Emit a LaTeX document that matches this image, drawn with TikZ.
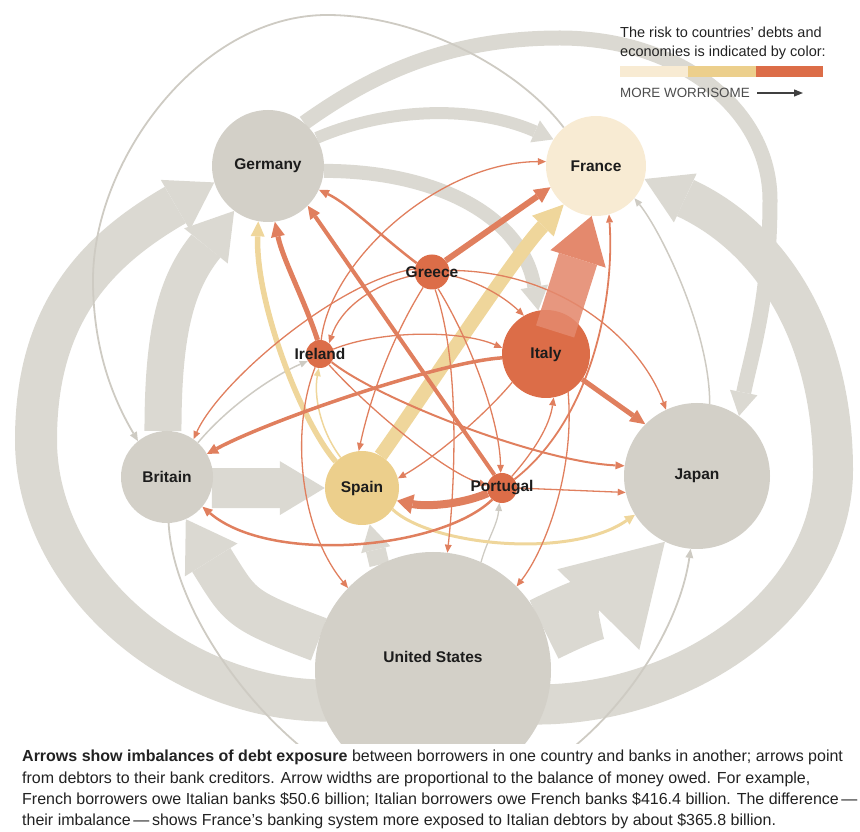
\documentclass[tikz,border=0pt]{standalone}
\usepackage{fontspec}
\setmainfont{Liberation Sans}
\usetikzlibrary{arrows.meta}
\definecolor{nodegray}{HTML}{D3D0C8}
\definecolor{bandgray}{HTML}{DBD9D2}
\definecolor{thingray}{HTML}{CECBC3}
\definecolor{lowrisk}{HTML}{F8EBD3}
\definecolor{midrisk}{HTML}{ECCF8C}
\definecolor{highrisk}{HTML}{DC6D48}
\definecolor{linkorange}{HTML}{E07F5E}
\definecolor{linkyellow}{HTML}{EFD69B}
\definecolor{bigorange}{HTML}{E4896D}
\definecolor{labeltext}{HTML}{1C1C1C}
\definecolor{captiontext}{HTML}{222222}
\pgfdeclarelayer{links}
\pgfsetlayers{links,main}
\tikzset{
  country/.style={circle, inner sep=0pt, minimum size=#1},
  countryname/.style={font=\fontsize{15.5}{18}\selectfont\bfseries, text=labeltext},
  debthead/.style 2 args={-{Triangle[width=#1,length=#2,line width=0pt]}},
  grayband/.style={draw=bandgray, line width=#1},
  graylink/.style={draw=thingray, line width=#1},
  orangelink/.style={draw=linkorange, line width=#1},
  yellowlink/.style={draw=linkyellow, line width=#1},
  thinorange/.style={orangelink=1.3pt, debthead={7pt}{8pt}},
}
\begin{document}
\begin{tikzpicture}[x=1pt,y=1pt]
            \useasboundingbox (0,0) rectangle (860,831);

            % countries
            \node[country=112pt, fill=nodegray] (germany) at (268,665) {};
            \node[country=100pt, fill=lowrisk] (france) at (596,665) {};
            \node[country=35pt, fill=highrisk] (greece) at (432,559) {};
            \node[country=28pt, fill=highrisk] (ireland) at (320,477) {};
            \node[country=88pt, fill=highrisk] (italy) at (546,477) {};
            \node[country=92pt, fill=nodegray] (britain) at (167,354) {};
            \node[country=74pt, fill=midrisk] (spain) at (362,343) {};
            \node[country=30pt, fill=highrisk] (portugal) at (502,343) {};
            \node[country=146pt, fill=nodegray] (japan) at (697,355) {};
            \node[country=236pt, fill=nodegray] (us) at (433,161) {};

            % the widest debt sits over Italy
            \draw[orangelink=40pt, draw=bigorange, draw opacity=0.88, debthead={58pt}{45pt}] ([shift={(-6pt,-19pt)}]italy.70) -- (france.-95);

            \node[countryname] (germanyname) at (germany) {Germany};
            \node[countryname] (francename) at (france) {France};
            \node[countryname] (greecename) at (greece) {Greece};
            \node[countryname] (irelandname) at (ireland) {Ireland};
            \node[countryname] (italyname) at (italy) {Italy};
            \node[countryname] (britainname) at (britain) {Britain};
            \node[countryname] (spainname) at (spain) {Spain};
            \node[countryname] (portugalname) at (portugal) {Portugal};
            \node[countryname] (japanname) at (japan) {Japan};
            \node[countryname] (usname) at (433,174) {United States};

            \begin{pgfonlayer}{links}
            % gray bands
            \coordinate (ringwest) at (36,391);
            \coordinate (ringeast) at (833,361);
            \coordinate (bandtop) at (560,793);
            \coordinate (bandright) at (770,631);
            \draw[grayband=42pt, debthead={58pt}{45pt}] ([xshift=8pt]us.195) .. controls +(-149,0) and +(0,-140) .. (ringwest) .. controls +(0,130) and +(-114,-66) .. (germany.197);
            \draw[grayband=37pt, debthead={56pt}{45pt}] (britain.95) .. controls +(0,100) and +(-58,-72) .. (germany.233);
            \draw[grayband=45pt, debthead={62pt}{48pt}] (us.165) .. controls +(-80,30) and +(55,-88) .. (britain.-66);
            \draw[grayband=40pt, debthead={54pt}{45pt}] (britain.-14) -- (spain.180);
            \draw[grayband=20pt, debthead={30pt}{26pt}] (us.117) -- (spain.-78);
            \draw[grayband=65pt, debthead={115pt}{95pt}] (us.20) .. controls +(30,15) and +(-59,-60) .. (japan.244);
            \draw[grayband=40pt, debthead={54pt}{45pt}] ([xshift=-10pt]us.-17) .. controls +(154,0) and +(0,-130) .. (ringeast) .. controls +(0,130) and +(131,-61) .. (france.-15);
            \draw[grayband=15pt, debthead={28pt}{24pt}] (germany.50) .. controls +(70,50) and +(-110,0) .. (bandtop) .. controls +(120,0) and +(0,90) .. (bandright) .. controls +(0,-100) and +(12,60) .. (japan.55);
            \draw[grayband=12pt, debthead={24pt}{20pt}] (germany.30) .. controls +(70,30) and +(-80,35) .. (france.148);
            \draw[grayband=14pt, debthead={28pt}{24pt}] (germany.-5) .. controls +(110,0) and +(-16,96) .. (italy.100);

            % thin gray links
            \coordinate (arctop) at (327,816);
            \coordinate (arcwest) at (93,551);
            \coordinate (arcbottom) at (430,26);
            \draw[graylink=1.8pt, debthead={8pt}{9pt}] (france.130) .. controls +(-44,58) and +(93,0) .. (arctop) .. controls +(-127,0) and +(0,120) .. (arcwest) .. controls +(0,-80) and +(-18,31) .. (britain.129);
            \draw[graylink=1.8pt, debthead={8pt}{9pt}] (britain.-88) .. controls +(6,-117) and +(-110,0) .. (arcbottom) .. controls +(130,0) and +(-16,-111) .. (japan.-95);
            \draw[graylink=1.5pt, debthead={7pt}{8pt}] (japan.80) .. controls +(0,74) and +(26,-32) .. (france.-40);
            \draw[graylink=1.5pt, debthead={7pt}{8pt}] (britain.48) .. controls +(32,38) and +(-33,-14) .. (ireland.-150);
            \draw[graylink=1.3pt, debthead={7pt}{8pt}] (us.66) .. controls +(6,22) and +(-2,-22) .. (portugal.-100);

            % yellow links
            \draw[yellowlink=14pt, debthead={30pt}{30pt}] (spain.60) .. controls +(40,56) and +(-49,-51) .. (france.-130);
            \draw[yellowlink=5.5pt, debthead={14pt}{15pt}] (spain.135) .. controls +(-36,42) and +(-3,-79) .. (germany.-100);
            \draw[yellowlink=3pt, debthead={10pt}{10pt}] (spain.-35) .. controls +(38,-36) and +(-65,-45) .. (japan.212);
            \draw[yellowlink=1.5pt, debthead={7pt}{8pt}] (spain.125) .. controls +(-21,28) and +(-5,-27) .. (ireland.-95);

            % orange links
            \draw[orangelink=6pt, debthead={16pt}{16pt}] (greece.40) -- (france.-155);
            \draw[orangelink=5pt, debthead={14pt}{15pt}] (ireland.100) .. controls +(-13,40) and +(8,-38) .. (germany.-83);
            \draw[orangelink=4pt, debthead={12pt}{13pt}] (portugal.120) -- (germany.-45);
            \draw[orangelink=2.5pt, debthead={9pt}{10pt}] (greece.150) .. controls +(-37,28) and +(31,-15) .. (germany.-25);
            \draw[orangelink=5pt, debthead={14pt}{15pt}] (italy.-35) -- (japan.135);
            \draw[orangelink=3.5pt, debthead={11pt}{11pt}] (italy.185) .. controls +(-62,-4) and +(63,34) .. (britain.30);
            \draw[orangelink=8pt, debthead={20pt}{16pt}] (portugal.-160) .. controls +(-28,-12) and +(28,-6) .. (spain.-20);
            \draw[orangelink=2.5pt, debthead={9pt}{10pt}] (portugal.-130) .. controls +(-52,-50) and +(68,-58) .. (britain.-40);
            \draw[orangelink=2pt, debthead={8pt}{9pt}] (ireland.-35) .. controls +(48,-38) and +(-85,4) .. (japan.172);
            \draw[thinorange] (ireland.85) .. controls +(9,80) and +(-106,0) .. (france.175);
            \draw[thinorange] (ireland.20) .. controls +(47,19) and +(-42,18) .. (italy.172);
            \draw[thinorange] (greece.-10) .. controls +(31,-7) and +(-19,18) .. (italy.120);
            \draw[thinorange] (greece.190) .. controls +(-45,-10) and +(11,33) .. (ireland.50);
            \draw[thinorange] (greece.5) .. controls +(111,0) and +(-26,70) .. (japan.115);
            \draw[thinorange] (greece.-120) .. controls +(-33,-53) and +(11,51) .. (spain.95);
            \draw[thinorange] (greece.-70) .. controls +(32,-52) and +(-1,53) .. (portugal.95);
            \draw[thinorange] (greece.-80) .. controls +(25,-71) and +(8,73) .. (us.83);
            \draw[thinorange] (ireland.-110) .. controls +(-25,-63) and +(-48,58) .. (us.136);
            \draw[thinorange] (italy.-60) .. controls +(7,-78) and +(29,37) .. (us.45);
            \draw[thinorange] (italy.-140) .. controls +(-32,-38) and +(32,18) .. (spain.15);
            \draw[thinorange] (portugal.50) .. controls +(23,26) and +(-4,-28) .. (italy.-80);
            \draw[thinorange, orangelink=1.8pt] (portugal.35) .. controls +(76,59) and +(6,-86) .. (france.-75);
            \draw[thinorange] (portugal.0) -- (japan.-167);
            \draw[thinorange] (greece.170) .. controls +(-75,-11) and +(27,59) .. (britain.55);
            \draw[thinorange] (ireland.-50) .. controls +(31,-35) and +(-47,15) .. (portugal.170);
            \end{pgfonlayer}

            % legend
            \node[anchor=north west, align=left, inner sep=0pt, text=captiontext, font=\fontsize{14.5}{19}\selectfont] (legendtext) at (620,804) {The risk to countries' debts and\\economies is indicated by color:};
            \fill[lowrisk] (620,754) rectangle (688,765);
            \fill[midrisk] (688,754) rectangle (756,765);
            \fill[highrisk] (756,754) rectangle (823,765);
            \node[anchor=base west, inner sep=0pt, text=black!70, font=\fontsize{13.4}{16}\selectfont] (worry) at (620,733) {MORE WORRISOME};
            \coordinate (worrystart) at (757,738);
            \coordinate (worrytip) at (803,738);
            \draw[line width=1.2pt, draw=black!75, -{Triangle[width=7pt,length=9pt]}] (worrystart) -- (worrytip);

            % caption
            \fill[white] (0,0) rectangle (860,87);
            \node[anchor=north west, align=left, inner sep=0pt, text=captiontext, font=\fontsize{16}{21.3}\selectfont] (caption) at (22,81) {\textbf{Arrows show imbalances of debt exposure} between borrowers in one country and banks in another; arrows point\\from debtors to their bank creditors. Arrow widths are proportional to the balance of money owed. For example,\\French borrowers owe Italian banks \$50.6 billion; Italian borrowers owe French banks \$416.4 billion. The difference\,---\\their imbalance\,---\,shows France's banking system more exposed to Italian debtors by about \$365.8 billion.};
        \end{tikzpicture}
\end{document}
